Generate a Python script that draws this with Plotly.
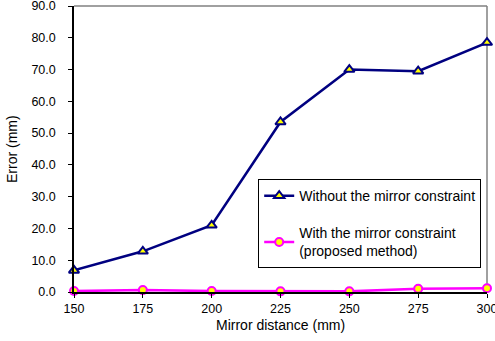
import plotly.graph_objects as go

distance = [150, 175, 200, 225, 250, 275, 300]
without_constraint = [6.8, 12.8, 21.0, 53.5, 70.0, 69.5, 78.5]
with_constraint = [0.3, 0.6, 0.3, 0.2, 0.2, 1.0, 1.2]
y_ticks = [0, 10, 20, 30, 40, 50, 60, 70, 80, 90]

fig = go.Figure()
fig.add_trace(go.Scatter(
    x=distance, y=without_constraint, mode="lines+markers",
    name="Without the mirror constraint", legendgroup="a",
    line=dict(color="#000080", width=2.5),
    marker=dict(symbol="triangle-up", size=9, color="#FFFF00",
                line=dict(color="#000080", width=2)),
    cliponaxis=False,
))
fig.add_trace(go.Scatter(
    x=distance, y=with_constraint, mode="lines+markers",
    name="With the mirror constraint<br>(proposed method)", legendgroup="b",
    line=dict(color="#FF00FF", width=2.5),
    marker=dict(symbol="circle", size=8, color="#FFFF00",
                line=dict(color="#FF00FF", width=2)),
    cliponaxis=False,
))

fig.update_layout(
    width=495, height=341,
    margin=dict(l=74, r=8, t=6, b=49, autoexpand=False),
    paper_bgcolor="white", plot_bgcolor="rgba(0,0,0,0)",
    font=dict(family="Liberation Sans, Arial, sans-serif", size=12.5, color="black"),
    xaxis=dict(
        range=[150, 300], tickvals=distance, ticktext=[str(d) for d in distance],
        showgrid=False, zeroline=False, showline=True, linecolor="black", linewidth=1.5,
        ticks="outside", ticklen=4, tickcolor="black", ticklabeloverflow="allow",
        automargin=False,
    ),
    yaxis=dict(
        range=[0, 90], tickvals=y_ticks, ticktext=[f"{v:.1f}" for v in y_ticks],
        showgrid=False, zeroline=False, showline=True, linecolor="black", linewidth=1.5,
        ticks="outside", ticklen=4, tickcolor="black", ticklabeloverflow="allow",
        ticklabelstandoff=10, automargin=False,
    ),
    legend=dict(
        x=0.446, y=0.395, xanchor="left", yanchor="top",
        bordercolor="black", borderwidth=1, bgcolor="white",
        tracegroupgap=16, font=dict(size=14), itemwidth=30,
    ),
    annotations=[
        dict(text="Mirror distance (mm)", xref="paper", yref="paper",
             x=0.5, y=-33 / 286, xanchor="center", yanchor="middle",
             showarrow=False, font=dict(size=14)),
        dict(text="Error (mm)", xref="paper", yref="paper",
             x=-62 / 413, y=0.5, xanchor="center", yanchor="middle",
             textangle=-90, showarrow=False, font=dict(size=14)),
    ],
    shapes=[
        dict(type="line", xref="paper", yref="paper", x0=0, x1=1, y0=1, y1=1,
             line=dict(color="#808080", width=1.5), layer="below"),
        dict(type="line", xref="paper", yref="paper", x0=1, x1=1, y0=0, y1=1,
             line=dict(color="#808080", width=1.5), layer="below"),
    ],
)

fig.write_html("out.html")
